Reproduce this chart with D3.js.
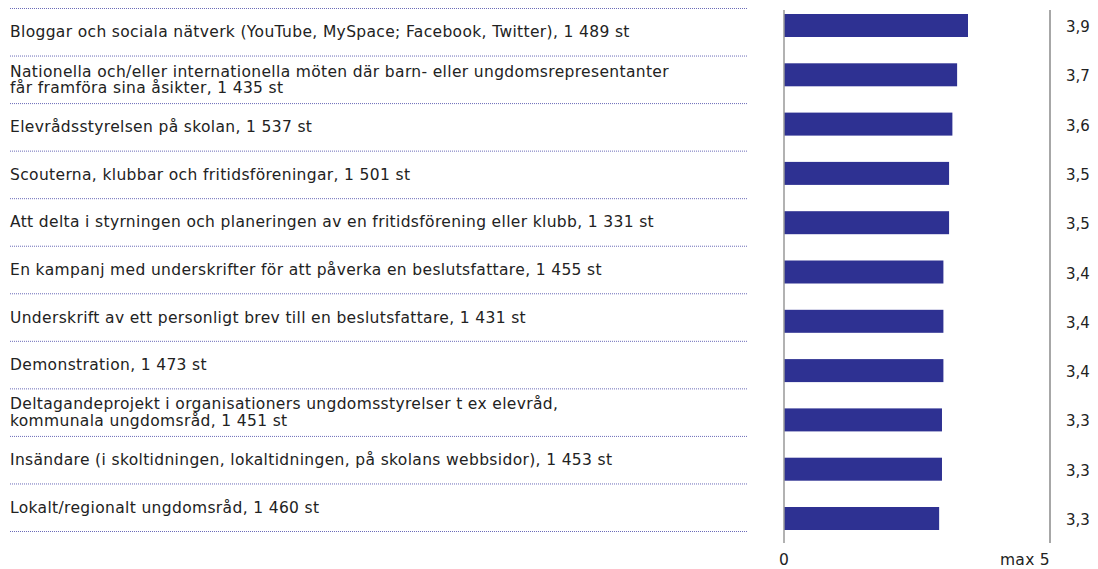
<!DOCTYPE html>
<html>
<head>
<meta charset="utf-8">
<script src="https://cdn.jsdelivr.net/npm/d3@7"></script>
<style>
  html, body { margin: 0; padding: 0; background: #fff; }
  svg { display: block; font-family: "DejaVu Sans", "Liberation Sans", sans-serif; }
</style>
</head>
<body>
<svg id="chart" width="1098" height="569"></svg>
<script>
// category labels (a "\n" splits a label into two lines)
const categories = [
  "Bloggar och sociala nätverk (YouTube, MySpace; Facebook, Twitter), 1 489 st",
  "Nationella och/eller internationella möten där barn- eller ungdomsrepresentanter\nfår framföra sina åsikter, 1 435 st",
  "Elevrådsstyrelsen på skolan, 1 537 st",
  "Scouterna, klubbar och fritidsföreningar, 1 501 st",
  "Att delta i styrningen och planeringen av en fritidsförening eller klubb, 1 331 st",
  "En kampanj med underskrifter för att påverka en beslutsfattare, 1 455 st",
  "Underskrift av ett personligt brev till en beslutsfattare, 1 431 st",
  "Demonstration, 1 473 st",
  "Deltagandeprojekt i organisationers ungdomsstyrelser t ex elevråd,\nkommunala ungdomsråd, 1 451 st",
  "Insändare (i skoltidningen, lokaltidningen, på skolans webbsidor), 1 453 st",
  "Lokalt/regionalt ungdomsråd, 1 460 st"
];

// mean score per item (bar length)
const values = [3.89, 3.66, 3.56, 3.49, 3.49, 3.37, 3.37, 3.37, 3.34, 3.34, 3.28];
// printed value labels
const valueLabels = ["3,9", "3,7", "3,6", "3,5", "3,5", "3,4", "3,4", "3,4", "3,3", "3,3", "3,3"];
const axisLabels = ["0", "max 5"];

const svg = d3.select("#chart");

const barColor = "#2e3192";
const textColor = "#222";

// rows on the left (separated by dotted lines)
const rowY = d3.scaleBand()
  .domain(d3.range(categories.length))
  .range([8, 531]);

// bar centres
const barY = d3.scalePoint()
  .domain(d3.range(categories.length))
  .range([25.5, 518.5]);
const barH = 23;

const x0 = 784, xMax = 1050;
const x = d3.scaleLinear().domain([0, 5]).range([x0, x0 + 236.5]);

// dotted separators
const seps = d3.range(categories.length + 1).map(i => 8 + i * rowY.step());
svg.append("g")
  .selectAll("line")
  .data(seps)
  .join("line")
  .attr("x1", 10)
  .attr("x2", 747)
  .attr("y1", d => d + 0.5)
  .attr("y2", d => d + 0.5)
  .attr("stroke", "#6b6bb8")
  .attr("stroke-width", 1)
  .attr("stroke-dasharray", "1,1");

// row labels
const labels = svg.append("g")
  .selectAll("text")
  .data(categories)
  .join("text")
  .attr("fill", textColor)
  .attr("font-size", 15.5)
  .attr("letter-spacing", 0.35)
  .attr("x", 10);

labels.each(function (d, i) {
  const lines = d.split("\n");
  const c = rowY(i) + rowY.bandwidth() / 2;
  const first = c + 5.5 - (lines.length - 1) * 8.25;
  d3.select(this)
    .selectAll("tspan")
    .data(lines)
    .join("tspan")
    .attr("x", 10)
    .attr("y", (l, j) => first + j * 16.5)
    .text(l => l);
});

// bars
svg.append("g")
  .selectAll("rect")
  .data(values)
  .join("rect")
  .attr("x", x(0))
  .attr("y", (d, i) => barY(i) - barH / 2)
  .attr("width", d => x(d) - x(0))
  .attr("height", barH)
  .attr("fill", barColor);

// left axis line and right "max" line
svg.append("line")
  .attr("x1", x0).attr("x2", x0)
  .attr("y1", 10).attr("y2", 543)
  .attr("stroke", "#999").attr("stroke-width", 1.5);
svg.append("line")
  .attr("x1", xMax).attr("x2", xMax)
  .attr("y1", 10).attr("y2", 543)
  .attr("stroke", "#8a8a8a").attr("stroke-width", 1.5);

// value labels
svg.append("g")
  .selectAll("text")
  .data(valueLabels)
  .join("text")
  .attr("x", 1066)
  .attr("y", (d, i) => barY(i) + 6.5)
  .attr("font-size", 15)
  .attr("fill", textColor)
  .text(d => d);

// axis labels
svg.append("text")
  .attr("x", x0).attr("y", 565)
  .attr("text-anchor", "middle")
  .attr("font-size", 15.5)
  .attr("fill", textColor)
  .text(axisLabels[0]);
svg.append("text")
  .attr("x", xMax).attr("y", 565)
  .attr("text-anchor", "end")
  .attr("font-size", 15.5)
  .attr("letter-spacing", 0.3)
  .attr("fill", textColor)
  .text(axisLabels[1]);
</script>
</body>
</html>
